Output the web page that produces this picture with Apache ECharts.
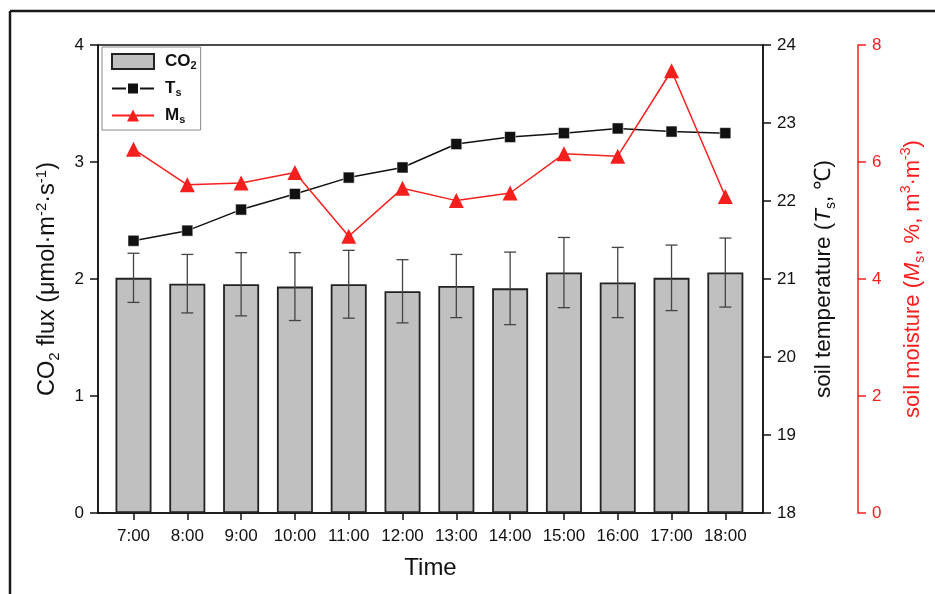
<!DOCTYPE html>
<html>
<head>
<meta charset="utf-8">
<script src="https://cdn.jsdelivr.net/npm/echarts@6/dist/echarts.min.js"></script>
<style>
  html, body { margin: 0; padding: 0; background: #fff; }
  #chart { width: 935px; height: 594px; }
</style>
</head>
<body>
<div id="chart"></div>
<script>
// Sampling times
const times = ['7:00', '8:00', '9:00', '10:00', '11:00', '12:00', '13:00', '14:00', '15:00', '16:00', '17:00', '18:00'];
// CO2 flux (μmol·m-2·s-1), mean and standard deviation
const co2Flux = [2.01, 1.96, 1.955, 1.935, 1.955, 1.895, 1.94, 1.92, 2.055, 1.97, 2.01, 2.055];
const co2Err  = [0.21, 0.25, 0.27, 0.29, 0.29, 0.27, 0.27, 0.31, 0.30, 0.30, 0.28, 0.295];
// Soil temperature (°C)
const soilTemp = [21.49, 21.62, 21.89, 22.09, 22.30, 22.43, 22.73, 22.82, 22.87, 22.93, 22.89, 22.87];
// Soil moisture (%, m3·m-3)
const soilMoist = [6.22, 5.61, 5.64, 5.82, 4.73, 5.55, 5.34, 5.47, 6.14, 6.10, 7.56, 5.41];

const hours = times.map(t => parseInt(t, 10));
const pair = arr => arr.map((v, i) => [hours[i], v]);

const FONT = 'Liberation Sans, Arial, sans-serif';
const RED = '#f5201e';

function richSet(color, size) {
  return {
    n:   { fontFamily: FONT, fontSize: size, color: color, lineHeight: 28 },
    i:   { fontFamily: FONT, fontSize: size, color: color, lineHeight: 28, fontStyle: 'italic' },
    sub: { fontFamily: FONT, fontSize: Math.round(size * 0.62), color: color, lineHeight: 14, verticalAlign: 'bottom' },
    sup: { fontFamily: FONT, fontSize: Math.round(size * 0.62), color: color, lineHeight: 14, verticalAlign: 'top' }
  };
}

const chart = echarts.init(document.getElementById('chart'), null, { renderer: 'canvas' });

const axisLabelStyle = { fontFamily: FONT, fontSize: 17, color: '#111' };

const option = {
  animation: false,
  backgroundColor: '#fff',
  grid: {
    left: 98, right: 171, top: 45, bottom: 81,
    show: true, borderColor: '#111', borderWidth: 1.5, backgroundColor: 'transparent'
  },
  legend: {
    orient: 'vertical',
    left: 102, top: 47,
    padding: [6, 4, 5, 9],
    itemGap: 9,
    itemWidth: 42, itemHeight: 15,
    borderColor: '#8a8a8a', borderWidth: 1,
    data: [{ name: 'CO2', icon: 'rect' }, { name: 'Ts' }, { name: 'Ms' }],
    formatter: function (name) {
      if (name === 'CO2') return '{b|CO}{s|2}';
      if (name === 'Ts') return '{b|T}{s|s}';
      return '{b|M}{s|s}';
    },
    textStyle: {
      padding: [0, 0, 0, 6],
      rich: {
        b: { fontFamily: FONT, fontSize: 17, fontWeight: 'bold', color: '#111', lineHeight: 19 },
        s: { fontFamily: FONT, fontSize: 11, fontWeight: 'bold', color: '#111', lineHeight: 2, verticalAlign: 'bottom' }
      }
    }
  },
  xAxis: {
    type: 'value',
    min: 6.34, max: 18.7,
    name: 'Time',
    nameLocation: 'middle',
    nameGap: 43,
    nameTextStyle: { fontFamily: FONT, fontSize: 24, color: '#111' },
    axisLine: { show: true, lineStyle: { color: '#111', width: 1.5 } },
    axisTick: { show: true, customValues: hours, length: 7, lineStyle: { color: '#111', width: 1.5 } },
    axisLabel: {
      customValues: hours, margin: 15, ...axisLabelStyle,
      formatter: v => times[hours.indexOf(Math.round(v))] || ''
    },
    splitLine: { show: false }
  },
  yAxis: [
    {
      type: 'value', position: 'left', min: 0, max: 4, interval: 1,
      name: '{n|CO}{sub|2}{n| flux (μmol·m}{sup|-2}{n|·s}{sup|-1}{n|)}',
      nameLocation: 'middle', nameGap: 36, nameRotate: 90,
      nameTextStyle: { rich: richSet('#111', 23.5) },
      axisLine: { show: true, lineStyle: { color: '#111', width: 1.5 } },
      axisTick: { show: true, length: 8, lineStyle: { color: '#111', width: 1.5 } },
      axisLabel: { margin: 14, ...axisLabelStyle },
      splitLine: { show: false }
    },
    {
      type: 'value', position: 'right', min: 18, max: 24, interval: 1,
      name: '{n|soil temperature (}{i|T}{sub|s}{n|, ℃)}',
      nameLocation: 'middle', nameGap: 47, nameRotate: 90,
      nameTextStyle: { rich: richSet('#111', 22.5) },
      axisLine: { show: true, lineStyle: { color: '#111', width: 1.5 } },
      axisTick: { show: true, length: 8, lineStyle: { color: '#111', width: 1.5 } },
      axisLabel: { margin: 14, ...axisLabelStyle },
      splitLine: { show: false }
    },
    {
      type: 'value', position: 'right', offset: 95, min: 0, max: 8, interval: 2,
      name: '{n|soil moisture (}{i|M}{sub|s}{n|, %, m}{sup|3}{n|·m}{sup|-3}{n|)}',
      nameLocation: 'middle', nameGap: 41, nameRotate: 90,
      nameTextStyle: { rich: richSet(RED, 22) },
      axisLine: { show: true, lineStyle: { color: RED, width: 1.5 } },
      axisTick: { show: true, length: 8, lineStyle: { color: RED, width: 1.5 } },
      axisLabel: { margin: 14, ...axisLabelStyle, color: RED },
      splitLine: { show: false }
    }
  ],
  graphic: [
    { type: 'line', shape: { x1: 10, y1: 11, x2: 935, y2: 11 }, style: { stroke: '#1a1a1a', lineWidth: 2.5 } },
    { type: 'line', shape: { x1: 10, y1: 11, x2: 10, y2: 594 }, style: { stroke: '#1a1a1a', lineWidth: 2.5 } }
  ],
  series: [
    {
      name: 'CO2',
      type: 'bar',
      yAxisIndex: 0,
      barWidth: 36,
      data: pair(co2Flux),
      itemStyle: { color: '#c0c0c0', borderColor: '#222', borderWidth: 1.8 },
      z: 2
    },
    {
      name: 'CO2 error',
      type: 'custom',
      yAxisIndex: 0,
      data: co2Flux.map((v, i) => [hours[i], v - co2Err[i], v + co2Err[i]]),
      renderItem: function (params, api) {
        const x = api.value(0);
        const lo = api.coord([x, api.value(1)]);
        const hi = api.coord([x, api.value(2)]);
        const half = 6;
        const st = { stroke: '#444', lineWidth: 1.3 };
        return {
          type: 'group',
          children: [
            { type: 'line', shape: { x1: lo[0], y1: lo[1], x2: hi[0], y2: hi[1] }, style: st },
            { type: 'line', shape: { x1: hi[0] - half, y1: hi[1], x2: hi[0] + half, y2: hi[1] }, style: st },
            { type: 'line', shape: { x1: lo[0] - half, y1: lo[1], x2: lo[0] + half, y2: lo[1] }, style: st }
          ]
        };
      },
      z: 3,
      silent: true
    },
    {
      name: 'Ts',
      type: 'line',
      yAxisIndex: 1,
      data: pair(soilTemp),
      symbol: 'rect',
      symbolSize: 11,
      lineStyle: { color: '#111', width: 1.5 },
      itemStyle: { color: '#111', borderColor: '#fff', borderWidth: 0.5 },
      z: 4
    },
    {
      name: 'Ms',
      type: 'line',
      yAxisIndex: 2,
      data: pair(soilMoist),
      symbol: 'triangle',
      symbolSize: 15,
      lineStyle: { color: RED, width: 1.5 },
      itemStyle: { color: RED },
      z: 5
    }
  ]
};

chart.setOption(option);
</script>
</body>
</html>
